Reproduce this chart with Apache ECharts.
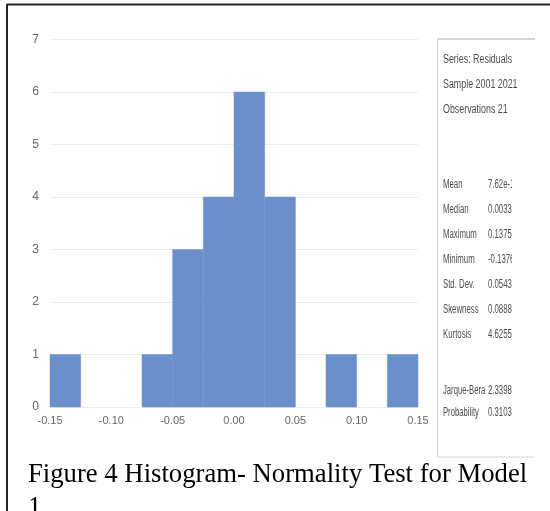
<!DOCTYPE html>
<html>
<head>
<meta charset="utf-8">
<style>
  html, body { margin: 0; padding: 0; background: #fff; }
  #chart { width: 550px; height: 511px; }
</style>
<script src="https://cdn.jsdelivr.net/npm/echarts@6/dist/echarts.min.js"></script>
</head>
<body>
<div id="chart"></div>
<script>
// histogram bins (width 0.025) and counts
const binStarts = [-0.15, -0.125, -0.1, -0.075, -0.05, -0.025, 0, 0.025, 0.05, 0.075, 0.1, 0.125]
const binEnds = [-0.125, -0.1, -0.075, -0.05, -0.025, 0, 0.025, 0.05, 0.075, 0.1, 0.125, 0.15]
const counts = [1, 0, 0, 1, 3, 4, 6, 4, 0, 1, 0, 1]

// stats box
const headerLines = ['Series: Residuals', 'Sample 2001 2021', 'Observations 21']
const statNames = ['Mean', 'Median', 'Maximum', 'Minimum', 'Std. Dev.', 'Skewness', 'Kurtosis']
const statValues = ['7.62e-17', '0.003325', '0.137500', '-0.137600', '0.054370', '0.088800', '4.625500']
const testNames = ['Jarque-Bera', 'Probability']
const testValues = ['2.339800', '0.310300']

const caption = 'Figure 4 Histogram- Normality Test for Model'

const barColor = '#6b8fcb'
const smallFont = '"Liberation Sans", sans-serif'

const chart = echarts.init(document.getElementById('chart'))

// narrow text helper
const narrow = (text, x, y, sx) => ({
  type: 'text', x: x, y: y, scaleX: sx,
  style: { text: text, fill: '#4d4d4d', font: '12px ' + smallFont }
})

const statText = []
headerLines.forEach((t, i) => statText.push(narrow(t, 443, 54 + i * 25, 0.74)))
statNames.forEach((t, i) => {
  statText.push(narrow(t, 443, 179 + i * 25, 0.65))
  statText.push(narrow(statValues[i], 488, 179 + i * 25, 0.65))
})
testNames.forEach((t, i) => {
  statText.push(narrow(t, 443, 385 + i * 22, 0.64))
  statText.push(narrow(testValues[i], 488, 385 + i * 22, 0.65))
})

const option = {
  animation: false,
  grid: { left: 50, top: 39.5, width: 368, height: 367.5 },
  xAxis: {
    type: 'value',
    min: -0.15,
    max: 0.15,
    interval: 0.05,
    axisLine: { show: false },
    axisTick: { show: false },
    splitLine: { show: false },
    axisLabel: {
      color: '#666',
      fontFamily: smallFont,
      fontSize: 11,
      margin: 8,
      formatter: v => v.toFixed(2)
    }
  },
  yAxis: {
    type: 'value',
    min: 0,
    max: 7,
    interval: 1,
    axisLine: { show: false },
    axisTick: { show: false },
    axisLabel: { color: '#666', fontFamily: smallFont, fontSize: 12, margin: 11 },
    splitLine: { lineStyle: { color: '#ececec', width: 1 } }
  },
  series: [{
    type: 'custom',
    data: binStarts.map((s, i) => [s, binEnds[i], counts[i]]),
    encode: { x: [0, 1], y: 2 },
    renderItem: (params, api) => {
      if (api.value(2) === 0) return null
      const p0 = api.coord([api.value(0), 0])
      const p1 = api.coord([api.value(1), api.value(2)])
      return {
        type: 'rect',
        shape: { x: p0[0], y: p1[1], width: p1[0] - p0[0], height: p0[1] - p1[1] },
        style: { fill: barColor, stroke: '#7597cf', lineWidth: 0.6 }
      }
    }
  }],
  graphic: [
    // outer frame
    { type: 'line', shape: { x1: 7, y1: 4.5, x2: 550, y2: 4.5 },
      style: { stroke: '#222', lineWidth: 2 } },
    { type: 'line', shape: { x1: 7, y1: 4, x2: 7, y2: 511 },
      style: { stroke: '#222', lineWidth: 2 } },
    ...statText,
    // the source screenshot is cropped just right of the values
    { type: 'rect', shape: { x: 512, y: 170, width: 38, height: 260 },
      style: { fill: '#fff' } },
    // stats box lines
    { type: 'line', shape: { x1: 437, y1: 39, x2: 535, y2: 39 },
      style: { stroke: '#c8c8c8', lineWidth: 1.5 } },
    { type: 'line', shape: { x1: 437.5, y1: 39, x2: 437.5, y2: 457 },
      style: { stroke: '#d4d4d4', lineWidth: 1 } },
    { type: 'line', shape: { x1: 437, y1: 457, x2: 535, y2: 457 },
      style: { stroke: '#d4d4d4', lineWidth: 1 } },
    // caption
    { type: 'text', left: 28, top: 461,
      style: { text: caption, fill: '#000', font: '26.7px "Liberation Serif", serif' } },
    { type: 'text', left: 28, top: 494,
      style: { text: '1', fill: '#000', font: '26.7px "Liberation Serif", serif' } }
  ]
}

chart.setOption(option)
window.addEventListener('resize', () => chart.resize())
</script>
</body>
</html>
